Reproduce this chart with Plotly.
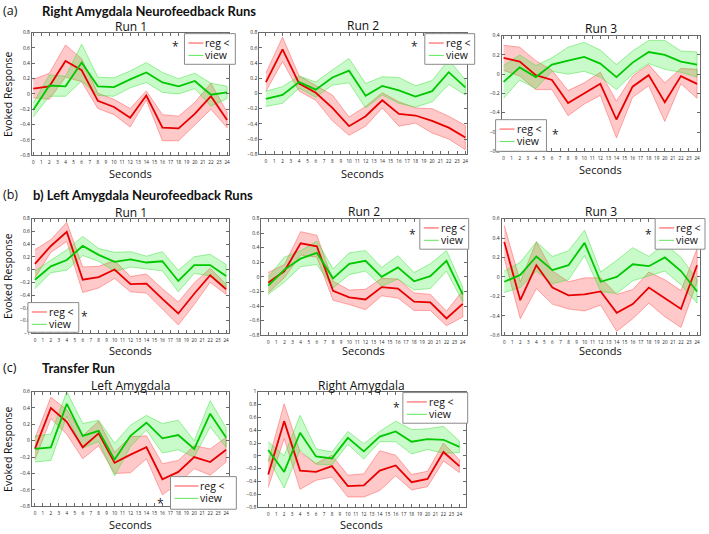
import plotly.graph_objects as go

W, H = 709, 534
seconds = list(range(0, 25, 2))
second_ticks = list(range(0, 25))

# ---- data: mean and SEM per panel ----
a1_reg = [0.07, 0.10, 0.43, 0.31, -0.09, -0.17, -0.31, -0.02, -0.44, -0.45, -0.26, -0.03, -0.34]
a1_reg_sem = [0.12, 0.17, 0.21, 0.15, 0.10, 0.10, 0.12, 0.06, 0.17, 0.16, 0.15, 0.17, 0.10]
a1_view = [-0.21, 0.11, 0.10, 0.41, 0.10, 0.09, 0.19, 0.28, 0.15, 0.10, 0.17, -0.01, 0.02]
a1_view_sem = [0.09, 0.14, 0.13, 0.24, 0.12, 0.12, 0.11, 0.13, 0.13, 0.10, 0.10, 0.15, 0.08]

a2_reg = [0.15, 0.58, 0.13, 0.01, -0.19, -0.43, -0.30, -0.09, -0.27, -0.29, -0.36, -0.45, -0.58]
a2_reg_sem = [0.12, 0.16, 0.10, 0.10, 0.17, 0.12, 0.13, 0.10, 0.16, 0.10, 0.16, 0.15, 0.16]
a2_view = [-0.07, -0.02, 0.15, 0.05, 0.21, 0.30, -0.03, 0.10, 0.04, -0.04, 0.03, 0.28, 0.08]
a2_view_sem = [0.10, 0.11, 0.08, 0.10, 0.10, 0.16, 0.16, 0.12, 0.17, 0.14, 0.14, 0.16, 0.10]

a3_reg = [0.17, 0.13, -0.01, -0.06, -0.30, -0.20, -0.10, -0.47, -0.13, -0.01, -0.29, -0.02, -0.10]
a3_reg_sem = [0.13, 0.15, 0.15, 0.10, 0.13, 0.11, 0.12, 0.19, 0.11, 0.11, 0.20, 0.08, 0.15]
a3_view = [-0.08, 0.07, -0.03, 0.10, 0.14, 0.18, 0.11, -0.03, 0.12, 0.23, 0.20, 0.13, 0.10]
a3_view_sem = [0.17, 0.13, 0.12, 0.07, 0.14, 0.15, 0.14, 0.13, 0.12, 0.12, 0.15, 0.11, 0.13]

b1_reg = [0.09, 0.37, 0.59, -0.16, -0.12, 0.00, -0.23, -0.22, -0.46, -0.69, -0.38, -0.09, -0.31]
b1_reg_sem = [0.22, 0.10, 0.15, 0.20, 0.17, 0.14, 0.12, 0.15, 0.16, 0.18, 0.17, 0.11, 0.08]
b1_view = [-0.16, 0.05, 0.15, 0.37, 0.23, 0.12, 0.16, 0.11, 0.13, -0.18, 0.07, 0.07, -0.10]
b1_view_sem = [0.14, 0.10, 0.16, 0.15, 0.10, 0.15, 0.12, 0.10, 0.15, 0.17, 0.13, 0.17, 0.18]

b2_reg = [-0.08, 0.08, 0.46, 0.42, -0.19, -0.28, -0.31, -0.14, -0.16, -0.34, -0.35, -0.57, -0.37]
b2_reg_sem = [0.14, 0.09, 0.16, 0.15, 0.13, 0.10, 0.14, 0.12, 0.13, 0.12, 0.11, 0.10, 0.18]
b2_view = [-0.12, 0.10, 0.25, 0.33, -0.02, 0.18, 0.22, 0.00, 0.13, -0.06, 0.01, 0.22, -0.24]
b2_view_sem = [0.12, 0.17, 0.11, 0.16, 0.13, 0.15, 0.14, 0.13, 0.16, 0.12, 0.17, 0.14, 0.10]

b3_reg = [0.36, -0.24, 0.12, -0.11, -0.19, -0.18, -0.15, -0.37, -0.28, -0.11, -0.22, -0.33, 0.12]
b3_reg_sem = [0.17, 0.19, 0.24, 0.17, 0.14, 0.17, 0.14, 0.19, 0.15, 0.16, 0.19, 0.19, 0.17]
b3_view = [-0.05, 0.02, 0.21, 0.07, 0.12, 0.35, -0.05, 0.00, 0.13, 0.11, 0.20, 0.06, -0.15]
b3_view_sem = [0.11, 0.13, 0.15, 0.14, 0.15, 0.13, 0.10, 0.17, 0.17, 0.10, 0.14, 0.14, 0.12]

c1_reg = [-0.10, 0.40, 0.23, -0.08, 0.09, -0.27, -0.17, -0.08, -0.47, -0.38, -0.20, -0.26, -0.11]
c1_reg_sem = [0.13, 0.13, 0.15, 0.14, 0.15, 0.13, 0.22, 0.14, 0.19, 0.14, 0.14, 0.16, 0.15]
c1_view = [-0.10, -0.08, 0.45, 0.06, 0.12, -0.23, 0.06, 0.22, 0.03, 0.07, -0.10, 0.33, 0.04]
c1_view_sem = [0.16, 0.16, 0.15, 0.15, 0.13, 0.20, 0.13, 0.09, 0.18, 0.18, 0.10, 0.16, 0.12]

c2_reg = [-0.29, 0.54, -0.23, -0.25, -0.16, -0.47, -0.46, -0.23, -0.15, -0.41, -0.36, 0.06, -0.16]
c2_reg_sem = [0.20, 0.27, 0.29, 0.13, 0.17, 0.17, 0.18, 0.31, 0.16, 0.12, 0.12, 0.14, 0.10]
c2_view = [0.09, -0.25, 0.36, -0.01, -0.04, 0.28, 0.07, 0.30, 0.38, 0.22, 0.26, 0.25, 0.14]
c2_view_sem = [0.13, 0.25, 0.27, 0.12, 0.10, 0.10, 0.12, 0.08, 0.16, 0.19, 0.16, 0.21, 0.09]

panel_titles = ["Run 1", "Run 2", "Run 3", "Run 1", "Run 2", "Run 3", "Left Amygdala", "Right Amygdala"]
y_ranges = [(-0.8, 0.8), (-0.8, 0.8), (-0.8, 0.4), (-1.0, 0.8), (-0.8, 0.8), (-0.6, 0.6), (-0.8, 0.6), (-0.8, 1.0)]
series = [
    (a1_reg, a1_reg_sem, a1_view, a1_view_sem),
    (a2_reg, a2_reg_sem, a2_view, a2_view_sem),
    (a3_reg, a3_reg_sem, a3_view, a3_view_sem),
    (b1_reg, b1_reg_sem, b1_view, b1_view_sem),
    (b2_reg, b2_reg_sem, b2_view, b2_view_sem),
    (b3_reg, b3_reg_sem, b3_view, b3_view_sem),
    (c1_reg, c1_reg_sem, c1_view, c1_view_sem),
    (c2_reg, c2_reg_sem, c2_view, c2_view_sem),
]

# ---- layout (pixels) ----
boxes = [  # left, right, top, bottom
    (32, 230, 30, 154), (260, 468, 30, 153), (503, 702, 33, 150),
    (32, 230, 218, 334), (262, 468, 218, 336), (503, 702, 218, 336),
    (32, 230, 393, 509), (259, 467, 393, 510),
]
x_ranges = [(-0.16, 24.28), (-0.8, 24.16), (-0.25, 24.37), (-0.38, 24.41),
            (-0.86, 24.49), (-0.33, 24.37), (-0.38, 24.41), (-1.25, 24.79)]
legend_boxes = [  # x0, x1, y0, y1, sample length
    (185, 236, 31, 62, 15), (426, 476, 31, 62, 15), (497, 548, 118, 150, 15),
    (28, 79, 303, 333, 15), (421, 470, 218, 249, 15), (657, 707, 218, 249, 15),
    (171, 237, 479, 512, 24), (404, 469, 394, 425, 20),
]
stars = [(176, 42), (416, 42), (557, 131), (85, 315), (414, 232), (650, 232), (161, 504), (398, 407)]
sec_label_y = [172, 172, 168, 351, 351, 351, 527, 527]
title_y = [24, 23, 26, 212, 211, 211, 387, 387]


def fx(p):
    return p / W


def fy(p):
    return 1 - p / H


FONT = "Open Sans"
HEAD_FONT = "Lato"
RED, GREEN = "#e80000", "#00c800"
RED_FILL, GREEN_FILL = "rgba(255,40,40,0.25)", "rgba(40,235,40,0.25)"
RED_EDGE, GREEN_EDGE = "rgba(255,80,80,0.6)", "rgba(60,225,60,0.6)"

fig = go.Figure()
annotations = []
shapes = []
layout = {}

for i, (reg, reg_sem, view, view_sem) in enumerate(series):
    n = "" if i == 0 else str(i + 1)
    xa, ya = "x" + n, "y" + n
    for mean, sem, fill, edge in ((reg, reg_sem, RED_FILL, RED_EDGE), (view, view_sem, GREEN_FILL, GREEN_EDGE)):
        upper = [m + s for m, s in zip(mean, sem)]
        lower = [m - s for m, s in zip(mean, sem)]
        fig.add_trace(go.Scatter(x=seconds + seconds[::-1], y=upper + lower[::-1], fill="toself",
                                 fillcolor=fill, line=dict(color=edge, width=0.8), mode="lines",
                                 hoverinfo="skip", showlegend=False, xaxis=xa, yaxis=ya))
    fig.add_trace(go.Scatter(x=seconds, y=reg, mode="lines", line=dict(color=RED, width=1.8),
                             name="reg <", showlegend=False, xaxis=xa, yaxis=ya))
    fig.add_trace(go.Scatter(x=seconds, y=view, mode="lines", line=dict(color=GREEN, width=1.8),
                             name="view", showlegend=False, xaxis=xa, yaxis=ya))

    L, R, T, B = boxes[i]
    common = dict(showline=True, mirror="ticks", linecolor="#6a6a6a", linewidth=1, ticks="inside",
                  ticklen=3, tickcolor="#6a6a6a", showgrid=False, zeroline=False, tickangle=0)
    layout["xaxis" + n] = dict(domain=[fx(L), fx(R)], range=list(x_ranges[i]), anchor=ya,
                               tickmode="array", tickvals=second_ticks, ticklabelstandoff=2,
                               tickfont=dict(family=FONT, size=4.6, color="#222"), **common)
    layout["yaxis" + n] = dict(domain=[fy(B), fy(T)], range=list(y_ranges[i]), anchor=xa,
                               tickmode="linear", tick0=0, dtick=0.2,
                               tickfont=dict(family=FONT, size=5, color="#222"), **common)

    annotations.append(dict(text=panel_titles[i], x=fx((L + R) / 2), y=fy(title_y[i]), xref="paper", yref="paper",
                            showarrow=False, xanchor="center", yanchor="middle",
                            font=dict(family=FONT, size=12, color="#111")))
    annotations.append(dict(text="Seconds", x=fx((L + R) / 2), y=fy(sec_label_y[i]), xref="paper", yref="paper",
                            showarrow=False, xanchor="center", yanchor="middle",
                            font=dict(family=FONT, size=11, color="#111")))
    if i in (0, 3, 6):
        annotations.append(dict(text="Evoked Response", x=fx(8), y=fy((T + B) / 2), xref="paper", yref="paper",
                                showarrow=False, textangle=-90, xanchor="center", yanchor="middle",
                                font=dict(family=FONT, size=10.5, color="#111")))

    # legend box
    x0, x1, y0, y1, sl = legend_boxes[i]
    shapes.append(dict(type="rect", xref="paper", yref="paper", x0=fx(x0), x1=fx(x1), y0=fy(y1), y1=fy(y0),
                       fillcolor="white", line=dict(color="#8a8a8a", width=1), layer="above"))
    for k, (lab, col) in enumerate((("reg <", "#ff4a4a"), ("view", "#5ee65e"))):
        yy = y0 + 9.5 + k * 12.5
        shapes.append(dict(type="line", xref="paper", yref="paper", x0=fx(x0 + 4), x1=fx(x0 + 4 + sl),
                           y0=fy(yy), y1=fy(yy), line=dict(color=col, width=1), layer="above"))
        annotations.append(dict(text=lab, x=fx(x0 + 4 + sl), y=fy(yy), xref="paper", yref="paper",
                                showarrow=False, xanchor="left", yanchor="middle",
                                font=dict(family=FONT, size=10.5, color="#111")))
    sx, sy = stars[i]
    annotations.append(dict(text="*", x=fx(sx), y=fy(sy + 2), xref="paper", yref="paper", showarrow=False,
                            xanchor="center", yanchor="middle", font=dict(family=FONT, size=12, color="#222")))

# section headers
headers = [("(a)", 1, 8, False), ("Right Amygdala Neurofeedback Runs", 40, 8, True),
           ("(b)", 1, 194, False), ("b) Left Amygdala Neurofeedback Runs", 31, 194, True),
           ("(c)", 1, 369, False), ("Transfer Run", 40, 369, True)]
for txt, hx, hy, bold in headers:
    annotations.append(dict(text=f"<b>{txt}</b>" if bold else txt, x=fx(hx), y=fy(hy), xref="paper", yref="paper",
                            showarrow=False, xanchor="left", yanchor="middle",
                            font=dict(family=HEAD_FONT if bold else FONT, size=13 if bold else 12.5,
                                      color="#111")))

fig.update_layout(width=W, height=H, margin=dict(l=0, r=0, t=0, b=0), paper_bgcolor="white",
                  plot_bgcolor="white", showlegend=False, annotations=annotations, shapes=shapes, **layout)
fig.write_html("out.html", config={"displayModeBar": False},
               post_script="document.body.style.margin='0';document.body.style.overflow='hidden';")
